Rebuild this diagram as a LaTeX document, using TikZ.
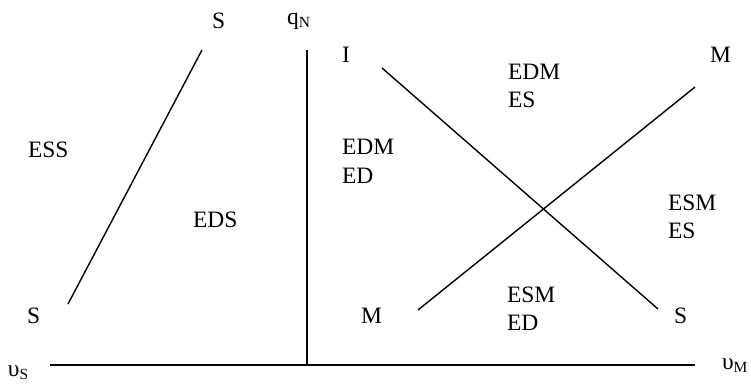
\documentclass[tikz,border=0pt]{standalone}
\usepackage{fontspec}
\setmainfont{Liberation Serif}
\tikzset{
  lbl/.style={anchor=base west, inner sep=0pt, outer sep=0pt, font=\fontsize{23.5}{23.5}\selectfont},
  ln/.style={line width=1.4pt, black}
}
\newcommand{\sbs}[1]{\raisebox{-3pt}{\fontsize{15.5}{15.5}\selectfont #1}}
\begin{document}
\begin{tikzpicture}[x=1pt,y=-1pt]
\useasboundingbox (0,0) rectangle (751,383);
% coordinates
\coordinate (hx0) at (50,365);
\coordinate (hx1) at (695,365);
\coordinate (vy0) at (307,50);
\coordinate (vy1) at (307,365);
\coordinate (ss0) at (202,50);
\coordinate (ss1) at (68,304);
\coordinate (is0) at (382,68);
\coordinate (is1) at (658,309);
\coordinate (mm0) at (418,310);
\coordinate (mm1) at (695,87);
% lines
\draw[ln] (hx0) -- (hx1);
\draw[ln] (vy0) -- (vy1);
\draw[ln] (ss0) -- (ss1);
\draw[ln] (is0) -- (is1);
\draw[ln] (mm0) -- (mm1);
% labels
\node[lbl] (sTop) at (212,28) {S};
\node[lbl] (qN) at (287,24) {q\sbs{N}};
\node[lbl] (I) at (342,62) {I};
\node[lbl] (mTop) at (710,62) {M};
\node[lbl] (edmes1) at (508,79) {EDM};
\node[lbl] (edmes2) at (508,107) {ES};
\node[lbl] (ess) at (28,157) {ESS};
\node[lbl] (edmed1) at (342,154) {EDM};
\node[lbl] (edmed2) at (342,183) {ED};
\node[lbl] (eds) at (193,227) {EDS};
\node[lbl] (esmes1) at (668,210) {ESM};
\node[lbl] (esmes2) at (668,238) {ES};
\node[lbl] (sBL) at (27,323) {S};
\node[lbl] (mBL) at (361,323) {M};
\node[lbl] (esmed1) at (507,302) {ESM};
\node[lbl] (esmed2) at (507,330) {ED};
\node[lbl] (sBR) at (674,323) {S};
\node[lbl] (uS) at (8,376) {υ\sbs{S}};
\node[lbl] (uM) at (722,369) {υ\sbs{M}};
\end{tikzpicture}
\end{document}
